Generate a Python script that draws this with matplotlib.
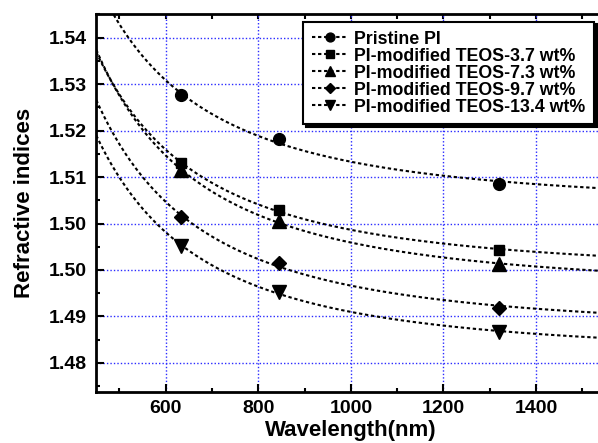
import numpy as np
import matplotlib
matplotlib.use("Agg")
import matplotlib.pyplot as plt
from matplotlib.ticker import MultipleLocator

plt.rcParams['font.family'] = ['Liberation Sans', 'DejaVu Sans']
plt.rcParams['font.weight'] = 'bold'

# ---- data ----
wavelengths = [633, 845, 1320]
series_names = ["Pristine PI",
                "PI-modified TEOS-3.7 wt%",
                "PI-modified TEOS-7.3 wt%",
                "PI-modified TEOS-9.7 wt%",
                "PI-modified TEOS-13.4 wt%"]
n_pristine = [1.5276, 1.5183, 1.5085]
n_teos37 = [1.5130, 1.5029, 1.4943]
n_teos73 = [1.5115, 1.5005, 1.4912]
n_teos97 = [1.5015, 1.4914, 1.4819]
n_teos134 = [1.4952, 1.4853, 1.4766]
markers = ['o', 's', '^', 'D', 'v']
marker_sizes = [8.5, 7.2, 9.5, 7.0, 9.5]

ytick_pos = [1.47, 1.48, 1.49, 1.50, 1.51, 1.52, 1.53, 1.54]
ytick_labels = ["1.48", "1.49", "1.50", "1.50", "1.51", "1.52", "1.53", "1.54"]
xticks = [600, 800, 1000, 1200, 1400]

fig = plt.figure(figsize=(5.98, 4.43), dpi=100)
W, H = 598, 443
x_left_px, x_right_px = 96.3, 96.3 + 1100 * 0.4629
y_top_px, y_bot_px = 14, 391.7
ax = fig.add_axes([x_left_px / W, 1 - y_bot_px / H,
                   (x_right_px - x_left_px) / W, (y_bot_px - y_top_px) / H])

all_series = [n_pristine, n_teos37, n_teos73, n_teos97, n_teos134]
lam_fine = np.linspace(450, 1550, 400)
handles = []
for name, vals, mk, ms in zip(series_names, all_series, markers, marker_sizes):
    lam_um = np.array(wavelengths) / 1000.0
    B, A = np.polyfit(1.0 / lam_um**2, np.array(vals), 1)  # Cauchy fit n = A + B/lambda^2
    fit = A + B / (lam_fine / 1000.0)**2
    ax.plot(lam_fine, fit, color='black', lw=1.5, linestyle=(0, (1.6, 1.3)), zorder=3)
    ax.plot(wavelengths, vals, linestyle='none', marker=mk, ms=ms,
            color='black', zorder=4)
    h, = ax.plot([], [], color='black', lw=1.5, linestyle=(0, (1.6, 1.3)),
                 marker=mk, ms=ms, label=name)
    handles.append(h)

ax.set_xlim(450, 1550)
ax.set_ylim(1.4638, 1.5451)
ax.set_xticks(xticks)
ax.xaxis.set_minor_locator(MultipleLocator(100))
ax.set_yticks(ytick_pos)
ax.set_yticklabels(ytick_labels)
ax.yaxis.set_minor_locator(MultipleLocator(0.005))

ax.grid(True, which='major', color='#2b2bff', linestyle=(0, (1, 1.5)), lw=1.0, zorder=1)

for s in ['left', 'bottom', 'top']:
    ax.spines[s].set_linewidth(2)
ax.spines['right'].set_visible(False)

ax.tick_params(axis='both', which='major', direction='in', length=5.5, width=1.5,
               labelsize=14, pad=7)
ax.tick_params(axis='both', which='minor', direction='in', length=3, width=1.5)
ax.tick_params(axis='x', which='major', pad=6)
for lab in ax.get_xticklabels() + ax.get_yticklabels():
    lab.set_fontweight('bold')

sec = ax.secondary_xaxis('top')
sec.set_xticks(list(range(500, 1600, 100)))
sec.set_xticklabels([])
sec.tick_params(direction='in', length=3.5, width=1.5)
sec.xaxis.set_minor_locator(matplotlib.ticker.NullLocator())

ax.set_xlabel("Wavelength(nm)", fontsize=16, fontweight='bold', labelpad=2)
ax.set_ylabel("Refractive indices", fontsize=16, fontweight='bold', labelpad=10)

leg = ax.legend(handles=handles, loc='upper right',
                bbox_to_anchor=(594.3 / W, 1 - 21.7 / H), bbox_transform=fig.transFigure,
                borderaxespad=0, fancybox=False, edgecolor='black', framealpha=1,
                shadow={'facecolor': 'black', 'edgecolor': 'black', 'alpha': 1},
                prop={'size': 12.8, 'weight': 'bold'}, labelspacing=0.0,
                handlelength=2.0, handletextpad=0.35, borderpad=0.5, markerscale=0.75)
leg.get_frame().set_linewidth(1.5)
leg.set_zorder(10)

fig.savefig("out.png", dpi=100)
